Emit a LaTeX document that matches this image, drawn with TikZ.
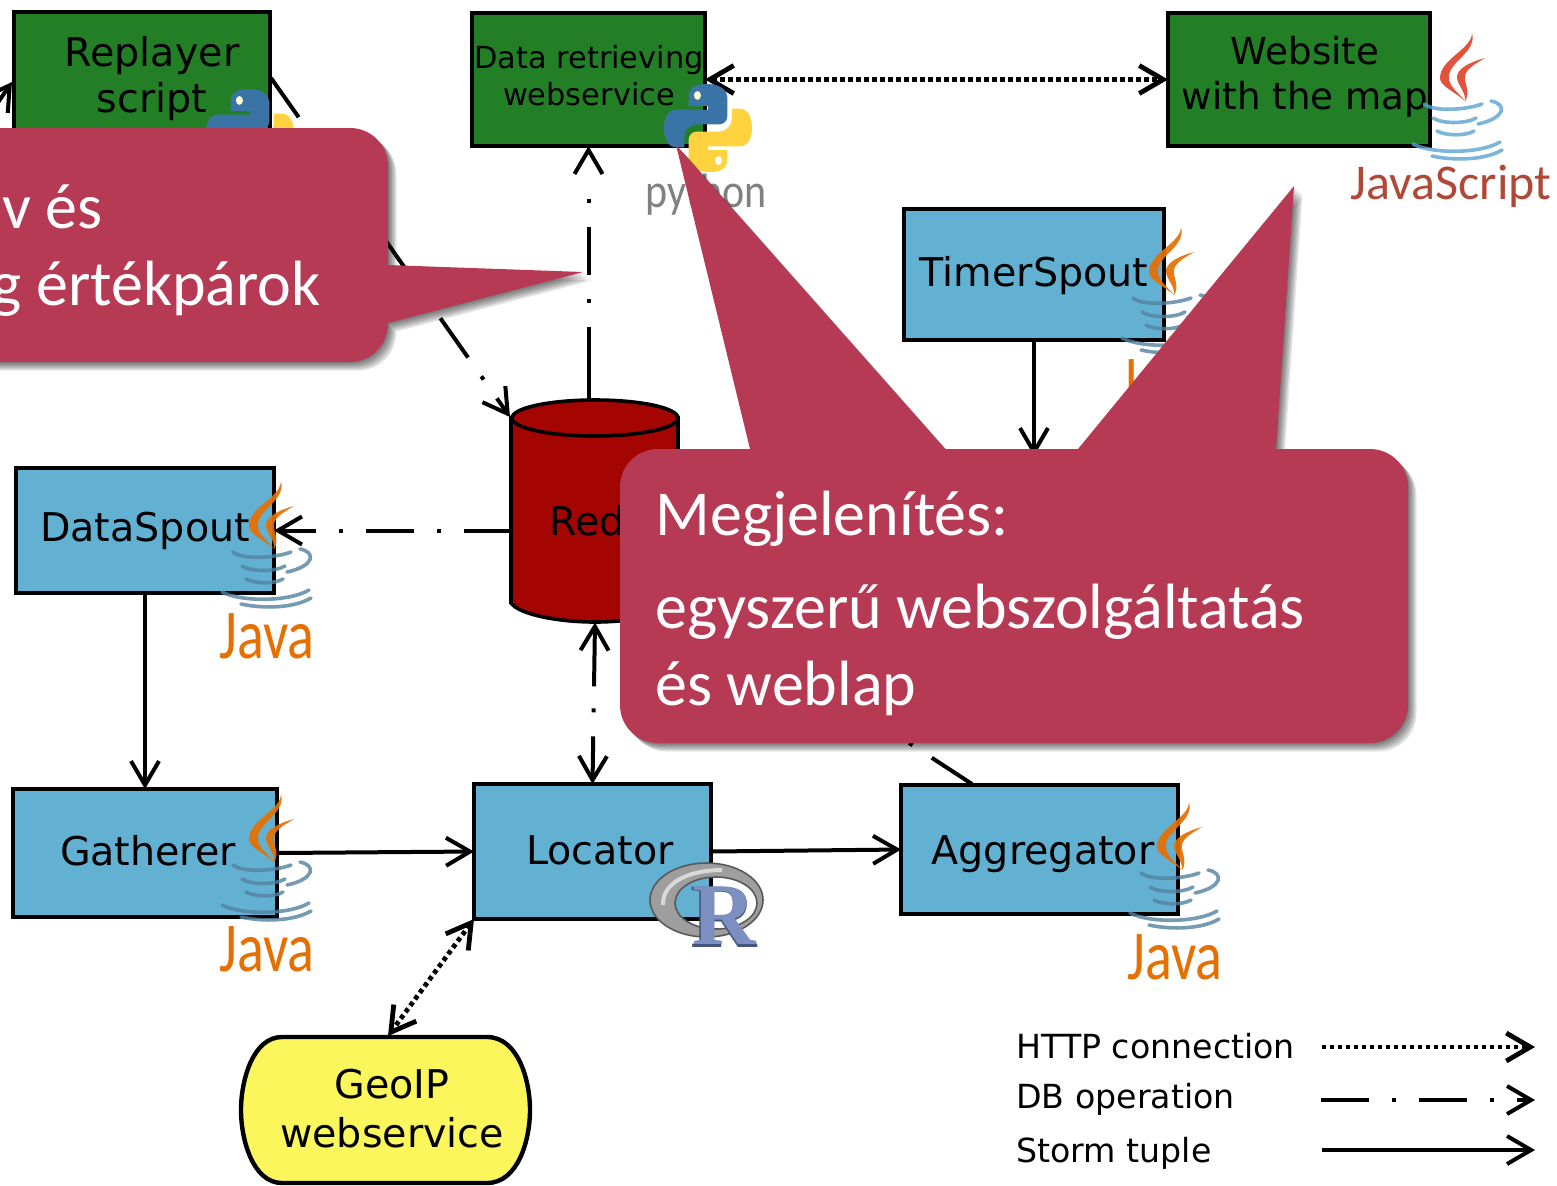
\documentclass[tikz,border=0pt]{standalone}
\usepackage{fontspec}
\setmainfont{DejaVu Sans}
\newfontfamily\calfont{Carlito}
\newfontfamily\serfont{Liberation Serif}
\usetikzlibrary{arrows.meta,calc}
\definecolor{boxgreen}{HTML}{237F26}
\definecolor{boxblue}{HTML}{62B1D2}
\definecolor{geoyellow}{HTML}{FBF65B}
\definecolor{redisred}{HTML}{A50500}
\definecolor{callout}{HTML}{B73A55}
\definecolor{javaorange}{HTML}{E76F00}
\definecolor{javablue}{HTML}{5382A1}
\definecolor{jsred}{HTML}{E0452C}
\definecolor{jsblue}{HTML}{5BA3D0}
\definecolor{pyblue}{HTML}{3A74A6}
\definecolor{pyyellow}{HTML}{FFD33F}
\definecolor{rblue}{HTML}{7C8FC0}
\definecolor{rdark}{HTML}{46557F}
\tikzset{
  ah/.tip={Straight Barb[length=12pt,width=14pt]},
  boxnode/.style={draw=black,line width=2.2pt,inner sep=0pt,outer sep=0pt},
  greenbox/.style={boxnode,fill=boxgreen},
  bluebox/.style={boxnode,fill=boxblue},
  lbl/.style={inner sep=0pt,align=center,font=\fontsize{19.8pt}{23pt}\selectfont},
  smalllbl/.style={inner sep=0pt,align=center,font=\fontsize{15.2pt}{18.5pt}\selectfont},
  legendlbl/.style={inner sep=0pt,anchor=west,font=\fontsize{16.6pt}{20pt}\selectfont},
  conn/.style={line width=2pt},
  storm/.style={conn},
  dbop/.style={conn,dash pattern=on 24pt off 11.5pt on 2pt off 11.5pt},
  httpline/.style={line width=2.4pt,dash pattern=on 2.2pt off 1.8pt},
  calltext/.style={inner sep=0pt,text=white,font=\calfont\fontsize{32pt}{38pt}\selectfont},
  javaword/.style={inner sep=0pt,font=\calfont\fontsize{28pt}{30pt}\selectfont},
  steam/.style={line width=1.8pt,line cap=round,opacity=.8}
}
\newcommand\javalogo[6]{%
  % #1 x, #2 y, #3 flame, #4 cup, #5 node name, #6 node content
  \begin{scope}[shift={(#1,#2)}]
    \fill[#3,opacity=.92] (62,-131) .. controls (62,-115) and (30,-105) .. (30,-86)
      .. controls (30,-78) and (45,-72) .. (55,-63)
      .. controls (48,-72) and (38,-78) .. (39,-88)
      .. controls (40,-103) and (67,-112) .. (62,-131) -- cycle;
    \fill[#3,opacity=.92] (75,-106) .. controls (60,-102) and (46,-95) .. (47,-86)
      .. controls (48,-78) and (56,-72) .. (55,-63)
      .. controls (61,-72) and (54,-80) .. (55,-88)
      .. controls (56,-95) and (65,-100) .. (75,-106) -- cycle;
    \draw[steam,#4] (14,-60) .. controls (24,-52) and (56,-54) .. (72,-60);
    \draw[steam,#4] (23,-46) .. controls (32,-40) and (56,-40) .. (66,-46);
    \draw[steam,#4] (27,-33) .. controls (36,-28) and (56,-28) .. (64,-33);
    \draw[steam,#4] (3,-20) .. controls (22,-10) and (70,-10) .. (90,-22);
    \draw[steam,#4] (22,-8) .. controls (45,-3) and (75,-4) .. (92,-14);
    \draw[steam,#4] (81,-63) .. controls (97,-60) and (96,-46) .. (68,-40);
    \node[javaword,text=#3] (#5) at (48,24) {\scalebox{1}[1.25]{#6}};
  \end{scope}}
\newcommand\pylogo[3]{%
  \begin{scope}[shift={(#1,#2)},scale=#3]
    \fill[pyblue] (49,0) .. controls (30,0) and (28,8) .. (28,15) -- (28,25) -- (50,25) -- (50,29) -- (15,29)
      .. controls (5,29) and (0,37) .. (0,50) .. controls (0,63) and (5,72) .. (14,72) -- (23,72) -- (23,60)
      .. controls (23,52) and (30,46) .. (38,46) -- (62,46) .. controls (68,46) and (72,42) .. (72,36)
      -- (72,15) .. controls (72,8) and (65,0) .. (49,0) -- cycle;
    \fill[pyyellow] (51,100) .. controls (70,100) and (72,92) .. (72,85) -- (72,75) -- (50,75) -- (50,71) -- (85,71)
      .. controls (95,71) and (100,63) .. (100,50) .. controls (100,37) and (95,28) .. (86,28) -- (77,28) -- (77,40)
      .. controls (77,48) and (70,54) .. (62,54) -- (38,54) .. controls (32,54) and (28,58) .. (28,64)
      -- (28,85) .. controls (28,92) and (35,100) .. (51,100) -- cycle;
    \fill[geoyellow!30!white] (38,13) ellipse [x radius=4,y radius=5];
    \fill[white] (62,87) ellipse [x radius=4,y radius=5];
  \end{scope}}
\newcommand\pathLeft{(-40,128) -- (350,128) .. controls (371,128) and (388,145) .. (388,166) -- (388,265) -- (583,272) -- (388,323)
  .. controls (388,345) and (371,362) .. (350,362) -- (-40,362) -- cycle}
\newcommand\pathMain{(658,449) -- (750,449) -- (676,145) -- (945,449) -- (1078,449) -- (1294,186) -- (1276,449) -- (1370,449)
  .. controls (1391,449) and (1408,466) .. (1408,487) -- (1408,705)
  .. controls (1408,726) and (1391,743) .. (1370,743) -- (658,743)
  .. controls (637,743) and (620,726) .. (620,705) -- (620,487)
  .. controls (620,466) and (637,449) .. (658,449) -- cycle}
\begin{document}
\begin{tikzpicture}[x=0.5pt,y=-0.5pt]
\useasboundingbox (0,0) rectangle (1557,1185);
\clip (0,0) rectangle (1557,1185);
\fill[white] (0,0) rectangle (1557,1185);

% boxes
\node[greenbox,minimum width=128pt,minimum height=70pt] (replayer) at (142,82) {};
\node[greenbox,minimum width=116.5pt,minimum height=66.5pt] (data) at (588.5,79.5) {};
\node[greenbox,minimum width=131pt,minimum height=66.5pt] (website) at (1299,79.5) {};
\node[bluebox,minimum width=130pt,minimum height=65.5pt] (timer) at (1034,274.5) {};
\node[bluebox,minimum width=129pt,minimum height=62.5pt] (dataspout) at (145,530.5) {};
\node[bluebox,minimum width=132pt,minimum height=64pt] (gatherer) at (145,853) {};
\node[bluebox,minimum width=118.5pt,minimum height=67.5pt] (locator) at (592.5,851.5) {};
\node[bluebox,minimum width=138.5pt,minimum height=64.5pt] (aggregator) at (1039.5,849.5) {};

% GeoIP
\node[inner sep=0pt,minimum width=146pt,minimum height=74pt] (geoip) at (385.5,1110) {};
\draw[fill=geoyellow,line width=2.2pt] (282,1037) -- (487,1037)
  .. controls (518,1037) and (530,1080) .. (530,1110)
  .. controls (530,1140) and (518,1183) .. (487,1183) -- (282,1183)
  .. controls (253,1183) and (241,1140) .. (241,1110)
  .. controls (241,1080) and (253,1037) .. (282,1037) -- cycle;

% Redis
\node[inner sep=0pt,minimum width=83pt,minimum height=111.5pt] (redis) at (595,510.5) {};
\draw[fill=redisred,line width=1.8pt] (511,418) -- (511,603)
  .. controls (520,615) and (560,622) .. (595,622)
  .. controls (630,622) and (670,615) .. (678,603) -- (678,418) -- cycle;
\draw[fill=redisred,line width=1.8pt] (595,418) ellipse [x radius=83,y radius=18];

% labels
\node[lbl] (lreplayer) at (152,79) {Replayer\\script};
\node[smalllbl] (ldata) at (589,76) {Data retrieving\\webservice};
\node[lbl,font=\fontsize{18.6pt}{22.5pt}\selectfont] (lwebsite) at (1305,77) {Website\\with the map};
\node[lbl] (ltimer) at (1034,276) {TimerSpout};
\node[lbl] (ldataspout) at (145,531) {DataSpout};
\node[lbl] (lgatherer) at (148,851) {Gatherer};
\node[lbl] (llocator) at (600,850) {Locator};
\node[lbl] (laggregator) at (1043,854) {Aggregator};
\node[lbl,font=\fontsize{19.8pt}{24.5pt}\selectfont] (lgeoip) at (392,1109) {GeoIP\\webservice};
\node[lbl] (lredis) at (603,521) {Redis};

% hidden ends under the callouts
\coordinate (replayerIn) at (12,82);
\coordinate (offLeft) at (-12,117);
\coordinate (replayerOut) at (271,78);
\coordinate (redisIn) at (510,417);
\coordinate (timerEnd) at (1034,456);
\coordinate (aggOut) at (972,784);
\coordinate (redisRight) at (679,593);
\coordinate (geoIn) at (388,1036);

% connectors
\draw[storm,-{ah}] (offLeft) -- (replayerIn);
\draw[dbop,-{ah}] (replayerOut) -- (redisIn);
\draw[conn,dash pattern=on 36pt off 12pt on 2pt off 12pt on 24pt off 12pt on 2pt off 60pt,-{ah}] (redis.north -| data.south) -- (data.south);
\draw[httpline,{ah}-{ah}] (data.east) -- (website.west);
\draw[dbop,-{ah}] (dataspout.east -| redis.west) -- (dataspout.east);
\draw[storm,-{ah}] (dataspout.south) -- (gatherer.north);
\draw[storm,-{ah}] (gatherer.east) -- (locator.west);
\draw[storm,-{ah}] (locator.east) -- (aggregator.west);
\draw[storm,-{ah}] (timer.south) -- (timerEnd);
\draw[dbop] (aggOut) -- (redisRight);
\draw[conn,dash pattern=on 29pt off 11pt on 2pt off 12pt on 30pt,{ah}-{ah}] (redis.south) -- (locator.north);
\draw[httpline,{ah}-{ah}] (locator.south west) -- (geoIn);

% logos
\pylogo{206}{89}{0.88}
\pylogo{664}{84}{0.88}
\node[inner sep=0pt,text=black!50,font=\calfont\fontsize{21pt}{25pt}\selectfont] (pytext) at (706,195) {\scalebox{1}[1.15]{python}};
\javalogo{219}{612}{javaorange}{javablue}{javaA}{Java}
\javalogo{219}{925}{javaorange}{javablue}{javaB}{Java}
\javalogo{1127}{933}{javaorange}{javablue}{javaC}{Java}
\javalogo{1119}{358}{javaorange}{javablue}{javaD}{Java}
\javalogo{1410}{164}{jsred}{jsblue}{jsword}{}
\node[inner sep=0pt,text=jsred!75!black!90!white,font=\calfont\fontsize{25pt}{27pt}\selectfont] (jstext) at (1451,186) {JavaScript};

% R logo
\draw[black!65,fill=black!38,line width=.8pt,even odd rule] (706.5,900) ellipse [x radius=56.5,y radius=37] (716,903) ellipse [x radius=41,y radius=26];
\draw[black!15,line width=2pt] (663,905) .. controls (662,882) and (690,870) .. (722,870);
\node[inner sep=0pt,text=rdark,font=\serfont\bfseries\fontsize{46pt}{48pt}\selectfont] (rlogoback) at (724,917) {R};
\node[inner sep=0pt,text=rblue,font=\serfont\bfseries\fontsize{44pt}{48pt}\selectfont] (rlogo) at (724,916) {R};

% callouts
\foreach \s in {1,2.5,4,5.5,7,8.5} {
  \fill[black,opacity=.11,shift={(\s,\s)}] \pathLeft;
  \fill[black,opacity=.11,shift={(\s,\s)}] \pathMain;
}
\fill[callout] \pathLeft;
\fill[callout] \pathMain;
\node[calltext,anchor=base east] (c1) at (103,228) {v és};
\node[calltext,anchor=base east] (c2) at (321,305) {g értékpárok};
\node[calltext,anchor=base west] (c3) at (655,535) {Megjelenítés:};
\node[calltext,anchor=base west] (c4) at (655,628) {egyszerű webszolgáltatás};
\node[calltext,anchor=base west] (c5) at (655,705) {és weblap};

% legend
\node[legendlbl] (lhttp) at (1016,1046) {HTTP connection};
\node[legendlbl] (ldb) at (1016,1099) {DB operation};
\node[legendlbl] (lstorm) at (1016,1153) {Storm tuple};
\coordinate (a1) at (1322,1047); \coordinate (a2) at (1535,1047);
\coordinate (b1) at (1321,1100); \coordinate (b2) at (1535,1100);
\coordinate (e1) at (1322,1150); \coordinate (e2) at (1535,1150);
\draw[httpline,-{ah}] (a1) -- (a2);
\draw[dbop,-{ah}] (b1) -- (b2);
\draw[storm,-{ah}] (e1) -- (e2);
\end{tikzpicture}
\end{document}
